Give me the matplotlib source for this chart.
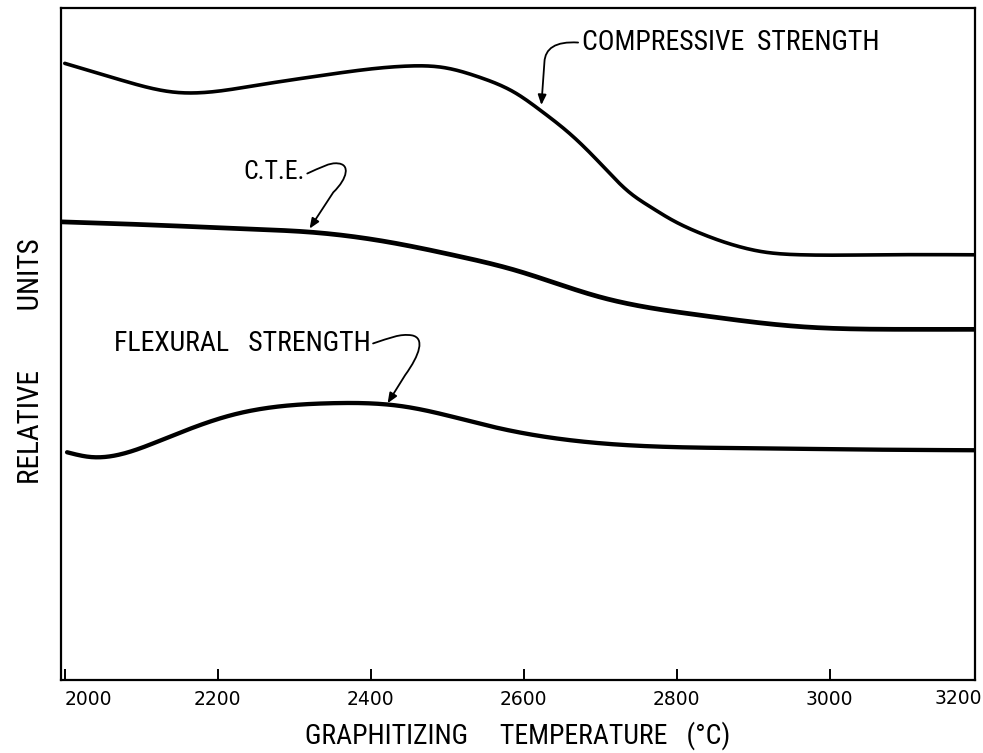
import matplotlib
matplotlib.use("Agg")
import matplotlib.pyplot as plt
import numpy as np
from matplotlib.path import Path
from matplotlib.patches import FancyArrowPatch

# ---- data (relative units 0-100) ----
comp_T = [2000, 2074, 2144, 2249, 2336, 2449, 2494, 2543, 2589, 2623, 2661, 2700, 2738,
          2766, 2792, 2831, 2870, 2915, 2962, 3067, 3190]
comp_V = [91.8, 89.3, 87.5, 88.5, 90.0, 91.4, 91.2, 89.7, 87.4, 84.7, 81.25, 76.9, 72.6,
          70.4, 68.6, 66.5, 64.9, 63.7, 63.3, 63.3, 63.3]

cte_T = [1996, 2100, 2249, 2318, 2423, 2510, 2589, 2700, 2831, 2962, 3093, 3190]
cte_V = [68.2, 67.8, 67.1, 66.7, 65.2, 63.2, 61.0, 57.0, 54.3, 52.6, 52.2, 52.2]

flex_T = [2003, 2033, 2126, 2217, 2348, 2438, 2563, 2716, 2897, 3050, 3190]
flex_V = [33.9, 33.2, 35.7, 39.4, 41.2, 40.8, 37.6, 35.1, 34.5, 34.3, 34.2]

tick_pos = [2000, 2200, 2400, 2600, 2800, 3000]
tick_labels = ["2000", "2200", "2400", "2600", "2800", "3000"]
last_label = "3200"

LABEL_FONT = ["Roboto Condensed", "Liberation Sans", "DejaVu Sans"]


def smooth(xs, ys, n=600):
    """Natural cubic spline through the read points."""
    x = np.asarray(xs, float)
    y = np.asarray(ys, float)
    k = len(x)
    h = np.diff(x)
    A = np.zeros((k, k))
    r = np.zeros(k)
    A[0, 0] = A[-1, -1] = 1.0
    for i in range(1, k - 1):
        A[i, i - 1] = h[i - 1]
        A[i, i] = 2 * (h[i - 1] + h[i])
        A[i, i + 1] = h[i]
        r[i] = 6 * ((y[i + 1] - y[i]) / h[i] - (y[i] - y[i - 1]) / h[i - 1])
    M = np.linalg.solve(A, r)
    xx = np.linspace(x[0], x[-1], n)
    idx = np.clip(np.searchsorted(x, xx) - 1, 0, k - 2)
    x0, x1 = x[idx], x[idx + 1]
    hh = h[idx]
    a = (x1 - xx) / hh
    b = (xx - x0) / hh
    yy = (a * y[idx] + b * y[idx + 1]
          + ((a**3 - a) * M[idx] + (b**3 - b) * M[idx + 1]) * hh**2 / 6)
    return xx, yy


fig = plt.figure(figsize=(9.83, 7.53), dpi=100)
ax = fig.add_axes([0.062, 0.097, 0.930, 0.892])
ax.set_xlim(1995, 3190)
ax.set_ylim(0, 100)

for T, V, lw in [(comp_T, comp_V, 2.6), (cte_T, cte_V, 3.4), (flex_T, flex_V, 3.1)]:
    xx, yy = smooth(T, V)
    ax.plot(xx, yy, color="black", lw=lw, solid_capstyle="round")

for s in ax.spines.values():
    s.set_linewidth(1.6)

ax.set_xticks(tick_pos)
ax.set_xticklabels(tick_labels, fontsize=13.5, family="DejaVu Sans")
ax.get_xticklabels()[0].set_ha("left")
ax.tick_params(axis="x", direction="in", length=8, width=1.4, pad=7)
ax.set_yticks([])
ax.text(3168, -1.3, last_label, fontsize=13.5, family="DejaVu Sans",
        ha="center", va="top", clip_on=False)

ax.set_xlabel("GRAPHITIZING     TEMPERATURE   (°C)", fontsize=20, family=LABEL_FONT, labelpad=9)
ax.set_ylabel("RELATIVE         UNITS", fontsize=21, family=LABEL_FONT)
ax.yaxis.set_label_coords(-0.017, 0.475)


def leader(verts, codes):
    p = Path(verts, codes)
    arr = FancyArrowPatch(path=p, arrowstyle="-|>,head_length=6,head_width=2.5",
                          color="black", lw=1.3, transform=ax.transData)
    ax.add_patch(arr)


M_, C, L = Path.MOVETO, Path.CURVE4, Path.LINETO

ax.text(2676, 94.9, "COMPRESSIVE  STRENGTH", fontsize=20, family=LABEL_FONT,
        ha="left", va="center")
leader([(2671, 94.9), (2641, 95.1), (2628, 94.0), (2627, 92.0), (2623, 85.6)],
       [M_, C, C, C, L])

ax.text(2314, 75.6, "C.T.E.", fontsize=18.5, family=LABEL_FONT, ha="right", va="center")
leader([(2317, 75.4), (2333, 76.2), (2347, 77.1), (2357, 76.9),
        (2373, 76.8), (2370, 74.7), (2351, 72.6), (2320, 67.2)],
       [M_, C, C, C, C, C, C, L])

ax.text(2400, 50.1, "FLEXURAL   STRENGTH", fontsize=20, family=LABEL_FONT,
        ha="right", va="center")
leader([(2403, 50.1), (2425, 50.9), (2438, 51.6), (2454, 51.3),
        (2471, 50.9), (2464, 48.4), (2445, 45.4), (2422, 41.2)],
       [M_, C, C, C, C, C, C, L])

fig.savefig("out.png", dpi=100)
